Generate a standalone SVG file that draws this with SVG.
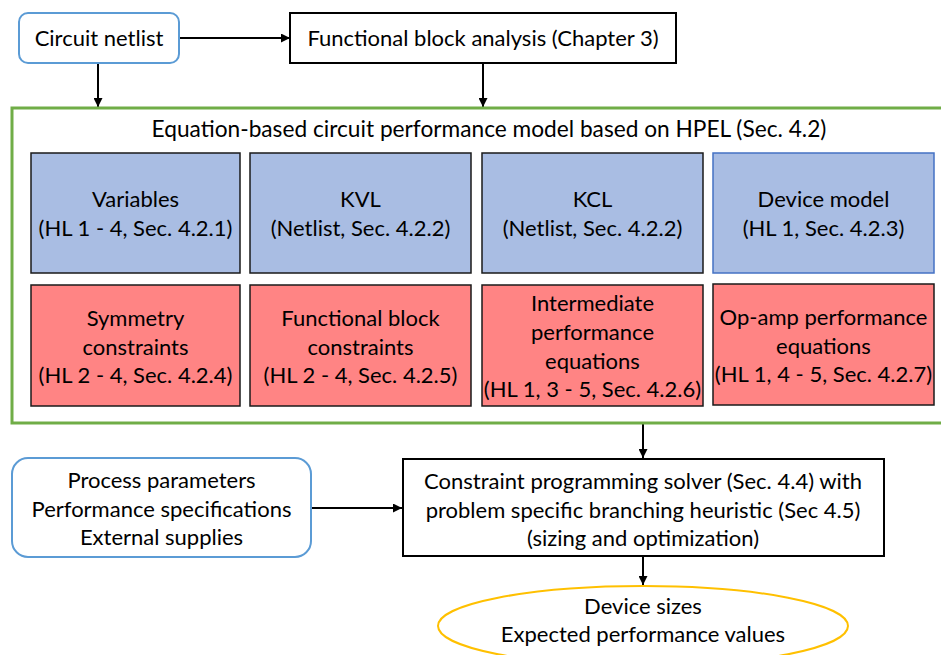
<svg xmlns="http://www.w3.org/2000/svg" width="941" height="655" viewBox="0 0 941 655">
  <style>
    text { font-family: Lato, "Liberation Sans", sans-serif; font-size: 22px; fill: #000; text-anchor: middle; }
    .title { font-size: 22.7px; }
    .start { fill: #fff; stroke: #5B9BD5; stroke-width: 2; }
    .plain { fill: #fff; stroke: #000; stroke-width: 2; }
    .model { fill: none; stroke: #70AD47; stroke-width: 3; }
    .blue { fill: #A9BDE3; stroke: #1a1a1a; stroke-width: 1.5; }
    .blue2 { fill: #A9BDE3; stroke: #4472C4; stroke-width: 1.5; }
    .red { fill: #FF8484; stroke: #1a1a1a; stroke-width: 1.5; }
    .out { fill: #fff; stroke: #FFC000; stroke-width: 2; }
    .conn line { stroke: #000; stroke-width: 2; marker-end: url(#arrow); }
  </style>
  <defs>
    <marker id="arrow" viewBox="0 0 10 10" refX="10" refY="5" markerWidth="4.5" markerHeight="4.5" orient="auto" markerUnits="strokeWidth">
      <path d="M0,0 L10,5 L0,10 z" fill="#000"/>
    </marker>
  </defs>

  <rect width="941" height="655" fill="#fff"/>

  <g id="connectors" class="conn">
    <line x1="180" y1="38" x2="290" y2="38"/>
    <line x1="98" y1="64" x2="98" y2="107"/>
    <line x1="483" y1="64" x2="483" y2="107"/>
    <line x1="643" y1="424" x2="643" y2="458"/>
    <line x1="312" y1="508" x2="402" y2="508"/>
    <line x1="643" y1="557" x2="643" y2="585"/>
  </g>

  <g id="circuit-netlist">
    <rect class="start" x="19" y="13" width="160" height="50" rx="9"/>
    <text x="99" y="46">Circuit netlist</text>
  </g>

  <g id="functional-block-analysis">
    <rect class="plain" x="290" y="13" width="386" height="50"/>
    <text x="483" y="46">Functional block analysis (Chapter 3)</text>
  </g>

  <g id="performance-model">
    <rect class="model" x="12" y="108" width="940" height="315"/>
    <text class="title" x="489" y="137">Equation-based circuit performance model based on HPEL (Sec. 4.2)</text>
  </g>

  <g id="variables">
    <rect class="blue" x="31" y="153" width="209" height="120"/>
    <text x="135.5" y="207">Variables</text>
    <text x="135.5" y="236">(HL 1 - 4, Sec. 4.2.1)</text>
  </g>

  <g id="kvl">
    <rect class="blue" x="250" y="153" width="221" height="120"/>
    <text x="360.5" y="207">KVL</text>
    <text x="360.5" y="236">(Netlist, Sec. 4.2.2)</text>
  </g>

  <g id="kcl">
    <rect class="blue" x="482" y="153" width="221" height="120"/>
    <text x="592.5" y="207">KCL</text>
    <text x="592.5" y="236">(Netlist, Sec. 4.2.2)</text>
  </g>

  <g id="device-model">
    <rect class="blue2" x="713" y="153" width="221" height="120"/>
    <text x="823.5" y="207">Device model</text>
    <text x="823.5" y="236">(HL 1, Sec. 4.2.3)</text>
  </g>

  <g id="symmetry-constraints">
    <rect class="red" x="31" y="285" width="209" height="121"/>
    <text x="135.5" y="326">Symmetry</text>
    <text x="135.5" y="355">constraints</text>
    <text x="135.5" y="383">(HL 2 - 4, Sec. 4.2.4)</text>
  </g>

  <g id="functional-block-constraints">
    <rect class="red" x="250" y="285" width="221" height="121"/>
    <text x="360.5" y="326">Functional block</text>
    <text x="360.5" y="355">constraints</text>
    <text x="360.5" y="383">(HL 2 - 4, Sec. 4.2.5)</text>
  </g>

  <g id="intermediate-performance">
    <rect class="red" x="482" y="285" width="221" height="121"/>
    <text x="592.5" y="311">Intermediate</text>
    <text x="592.5" y="340">performance</text>
    <text x="592.5" y="369">equations</text>
    <text x="592.5" y="397">(HL 1, 3 - 5, Sec. 4.2.6)</text>
  </g>

  <g id="opamp-performance">
    <rect class="red" x="713" y="284" width="221" height="121"/>
    <text x="823.5" y="325">Op-amp performance</text>
    <text x="823.5" y="354">equations</text>
    <text x="823.5" y="382">(HL 1, 4 - 5, Sec. 4.2.7)</text>
  </g>

  <g id="inputs">
    <rect class="start" x="12" y="458" width="299" height="99" rx="16"/>
    <text x="161.5" y="488">Process parameters</text>
    <text x="161.5" y="517">Performance specifications</text>
    <text x="161.5" y="545">External supplies</text>
  </g>

  <g id="solver">
    <rect class="plain" x="403" y="459" width="481" height="97"/>
    <text x="643" y="489">Constraint programming solver (Sec. 4.4) with</text>
    <text x="643" y="518">problem specific branching heuristic (Sec 4.5)</text>
    <text x="643" y="546">(sizing and optimization)</text>
  </g>

  <g id="results">
    <ellipse class="out" cx="643" cy="626" rx="205" ry="40"/>
    <text x="643" y="614">Device sizes</text>
    <text x="643" y="642">Expected performance values</text>
  </g>
</svg>
